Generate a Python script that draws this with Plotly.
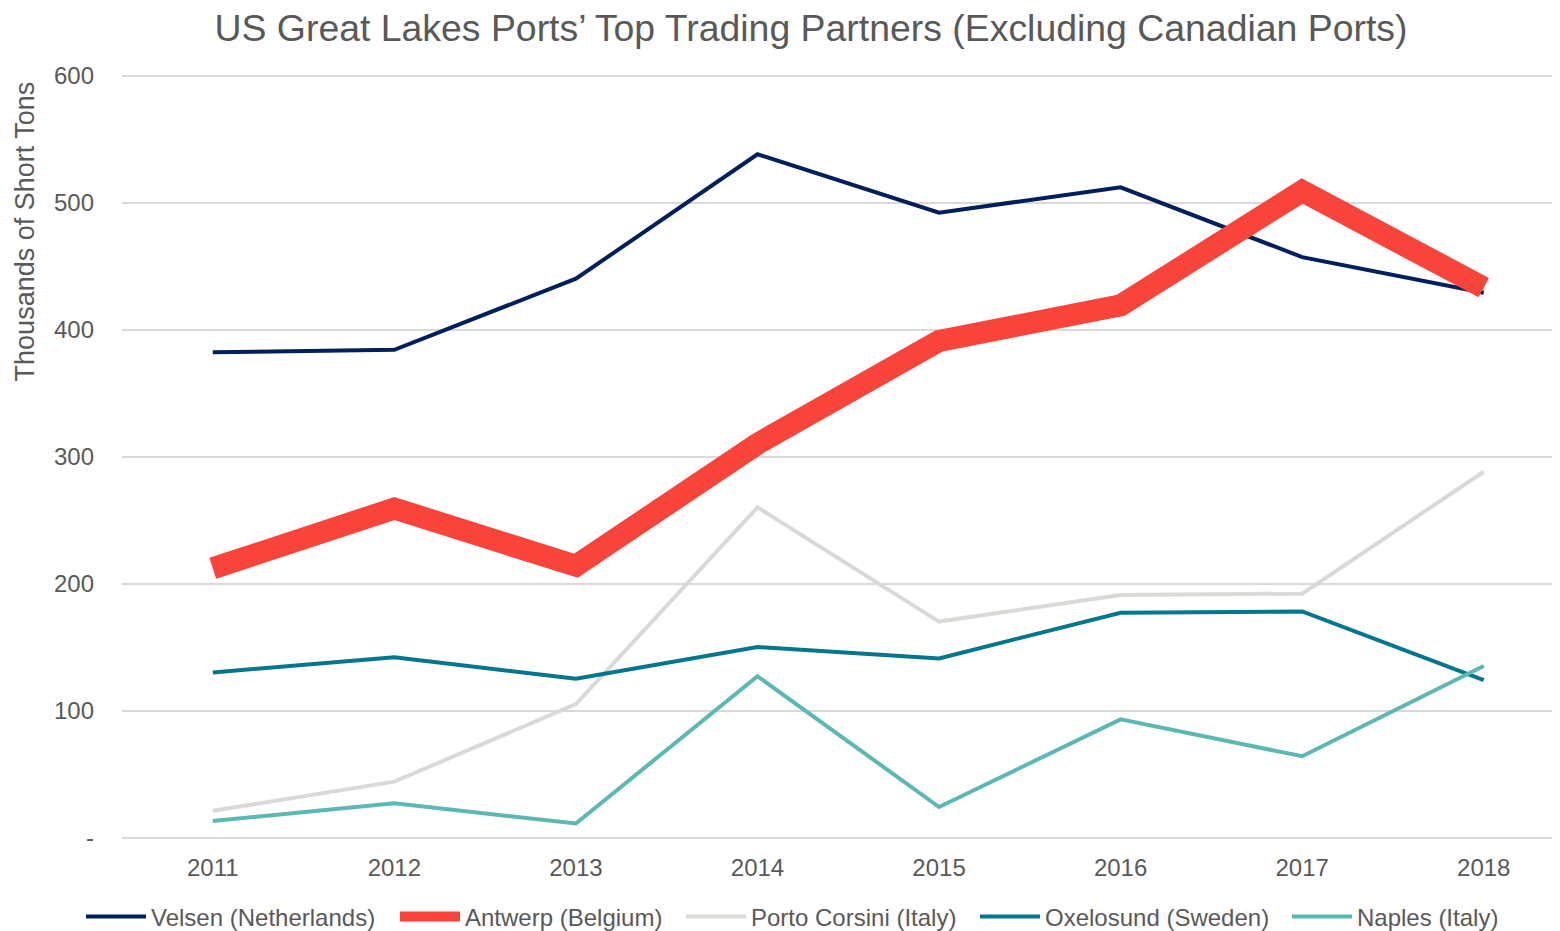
import plotly.graph_objects as go

years = ["2011", "2012", "2013", "2014", "2015", "2016", "2017", "2018"]
velsen = [382, 384, 440, 538, 492, 512, 457, 429]
antwerp = [212, 259, 214, 310, 391, 419, 509, 433]
porto_corsini = [21, 44, 105, 260, 170, 191, 192, 288]
oxelosund = [130, 142, 125, 150, 141, 177, 178, 124]
naples = [13, 27, 11, 127, 24, 93, 64, 135]

series = [
    ("Velsen (Netherlands)", velsen, "#00205B", 4),
    ("Antwerp (Belgium)", antwerp, "#F9443B", 22),
    ("Porto Corsini (Italy)", porto_corsini, "#D9D9D6", 4),
    ("Oxelosund (Sweden)", oxelosund, "#00778B", 4),
    ("Naples (Italy)", naples, "#5CB8B2", 4),
]

y_ticks = [0, 100, 200, 300, 400, 500, 600]
y_ticktext = ["-", "100", "200", "300", "400", "500", "600"]

# the page body adds an 8px offset; container coordinates are compensated
OFF = 8
legend_text_px = [149, 463, 749, 1043, 1355]

fig = go.Figure()
legend_layouts = {}
for i, (name, vals, color, w) in enumerate(series):
    lg = "legend" if i == 0 else f"legend{i+1}"
    fig.add_trace(go.Scatter(x=years, y=vals, name=name, mode="lines",
                             line=dict(color=color, width=w),
                             legend=lg))
    legend_layouts[lg] = dict(
        orientation="h", xref="container", yref="container",
        x=(legend_text_px[i] - 68 - OFF) / 1560, xanchor="left",
        y=(931 - (917 - OFF)) / 931, yanchor="middle",
        font=dict(size=24, color="#595959"),
        bgcolor="rgba(0,0,0,0)", borderwidth=0, itemwidth=60,
    )

PAD = 1.5  # px of extra room so edge gridlines (0 and 600) are drawn
fig.update_layout(
    width=1560, height=931,
    paper_bgcolor="white", plot_bgcolor="white",
    font=dict(family="Liberation Sans, Arial, sans-serif", color="#595959", size=24),
    title=dict(text="US Great Lakes Ports’ Top Trading Partners (Excluding Canadian Ports)",
               x=(811 - OFF) / 1560, xanchor="center", xref="container",
               y=1 - (28 - OFF) / 931, yanchor="middle", yref="container",
               font=dict(size=37.4, color="#595959")),
    margin=dict(l=122 - OFF, r=OFF, t=75 - OFF - PAD, b=93 + OFF - PAD, autoexpand=False),
    showlegend=True,
    xaxis=dict(type="category", range=[-0.5, 7.42], showgrid=False, showline=False,
               ticks="", tickfont=dict(size=24), ticklabelstandoff=12, automargin=False),
    yaxis=dict(range=[-1.18, 601.18], tickvals=y_ticks, ticktext=y_ticktext,
               showgrid=True, gridcolor="#D9D9D9", gridwidth=1.5, zeroline=False,
               ticks="", tickfont=dict(size=24), ticklabelstandoff=27, automargin=False),
    annotations=[dict(text="Thousands of Short Tons", textangle=-90,
                      xref="paper", yref="paper",
                      x=(25 - 122) / 1438, y=(838 - 232) / 763,
                      xanchor="center", yanchor="middle", showarrow=False,
                      font=dict(size=27, color="#595959"))],
    **legend_layouts,
)

fig.write_html("out.html")
